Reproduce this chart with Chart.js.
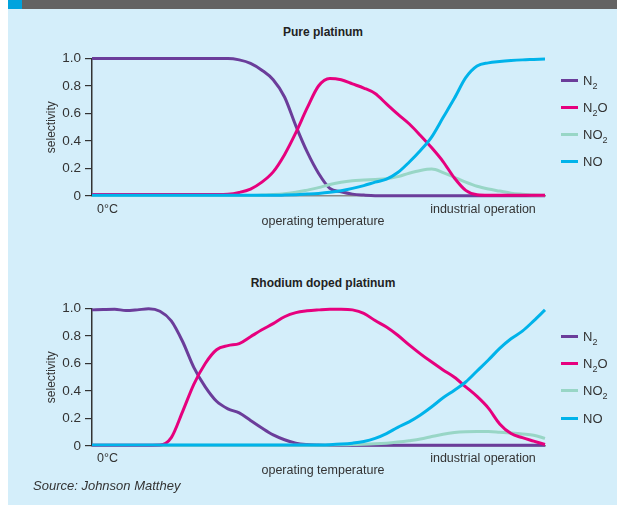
<!DOCTYPE html>
<html><head><meta charset="utf-8">
<script src="https://cdn.jsdelivr.net/npm/chart.js@4.4.1/dist/chart.umd.min.js"></script>
<style>
html,body{margin:0;padding:0;background:#fff;}
#wrap{position:relative;width:617px;height:505px;overflow:hidden;background:#fff;font-family:'Liberation Sans',Arial,sans-serif;color:#333;}
#panel{position:absolute;left:8px;top:9px;width:609px;height:496px;background:#d4eefa;}
#banner{position:absolute;left:8px;top:0;width:609px;height:9px;background:#636363;}
#bsq{position:absolute;left:8px;top:0;width:14px;height:9px;background:#00a3de;}
.cv{position:absolute;left:0;}
.t{position:absolute;white-space:nowrap;line-height:1;font-size:12.5px;}
.c{transform:translateX(-50%);}
.ttl{font-weight:bold;font-size:12px;color:#222;}
.lg{position:absolute;left:561px;width:17px;height:3px;}
.ll{position:absolute;left:583px;font-size:13px;line-height:1;white-space:nowrap;}
.ll sub{font-size:9px;vertical-align:-4px;line-height:0;}
.src{font-style:italic;font-size:13px;}
</style></head>
<body>
<div id="wrap">
  <div id="panel"></div>
  <div id="banner"></div><div id="bsq"></div>
  <div class="t c ttl" style="left:323px;top:26px;">Pure platinum</div>
  <canvas id="c1" class="cv" width="617" height="168" style="top:40px"></canvas>
  <div class="t" style="left:97px;top:203px;">0°C</div>
  <div class="t c" style="left:323px;top:215px;">operating temperature</div>
  <div class="t c" style="left:483px;top:203px;">industrial operation</div>
  <div class="lg" style="top:79px;background:#6b3d9a"></div><div class="ll" style="top:74px">N<sub>2</sub></div>
  <div class="lg" style="top:106px;background:#e6007e"></div><div class="ll" style="top:101px">N<sub>2</sub>O</div>
  <div class="lg" style="top:133px;background:#98d6c6"></div><div class="ll" style="top:128px">NO<sub>2</sub></div>
  <div class="lg" style="top:160px;background:#00b3ea"></div><div class="ll" style="top:155px">NO</div>

  <div class="t c ttl" style="left:323px;top:277px;">Rhodium doped platinum</div>
  <canvas id="c2" class="cv" width="617" height="168" style="top:290px"></canvas>
  <div class="t" style="left:97px;top:452px;">0°C</div>
  <div class="t c" style="left:323px;top:464px;">operating temperature</div>
  <div class="t c" style="left:483px;top:452px;">industrial operation</div>
  <div class="lg" style="top:335px;background:#6b3d9a"></div><div class="ll" style="top:330px">N<sub>2</sub></div>
  <div class="lg" style="top:362px;background:#e6007e"></div><div class="ll" style="top:357px">N<sub>2</sub>O</div>
  <div class="lg" style="top:389px;background:#98d6c6"></div><div class="ll" style="top:384px">NO<sub>2</sub></div>
  <div class="lg" style="top:417px;background:#00b3ea"></div><div class="ll" style="top:412px">NO</div>
  <div class="t src" style="left:33px;top:479px;">Source: Johnson Matthey</div>
</div>
<script>
// relative operating temperature (0 = 0°C, 100 = right end of the axis)
const temperature = [0,2.5,5,7.5,10,12.5,15,17.5,20,22.5,25,27.5,30,32.5,35,37.5,40,42.5,45,47.5,50,52.5,55,57.5,60,62.5,65,67.5,70,72.5,75,77.5,80,82.5,85,87.5,90,92.5,95,97.5,100];
const seriesNames = ['N2','N2O','NO2','NO'];
const yTicks = [0,0.2,0.4,0.6,0.8,1.0];

// Pure platinum
const ptN2  = [1,1,1,1,1,1,1,1,1,1,1,1,1,0.99,0.965,0.915,0.845,0.72,0.51,0.32,0.165,0.055,0.03,0.013,0.006,0.002,0.002,0.002,0.002,0.002,0.002,0.002,0.002,0.002,0.002,0.002,0.002,0.002,0.002,0.002,0.002];
const ptN2O = [0.01,0.01,0.01,0.01,0.01,0.01,0.01,0.01,0.01,0.01,0.01,0.01,0.012,0.025,0.05,0.10,0.175,0.30,0.46,0.64,0.80,0.855,0.845,0.815,0.785,0.745,0.67,0.595,0.525,0.44,0.35,0.25,0.13,0.04,0.008,0.005,0.005,0.005,0.005,0.005,0.005];
const ptNO2 = [0.003,0.003,0.003,0.003,0.003,0.003,0.003,0.003,0.003,0.003,0.003,0.003,0.003,0.003,0.003,0.006,0.01,0.016,0.026,0.042,0.06,0.083,0.10,0.11,0.115,0.12,0.125,0.14,0.165,0.185,0.195,0.17,0.135,0.10,0.07,0.05,0.035,0.02,0.012,0.006,0.004];
const ptNO  = [0.004,0.004,0.004,0.004,0.004,0.004,0.004,0.004,0.004,0.004,0.004,0.004,0.004,0.004,0.004,0.004,0.004,0.006,0.009,0.013,0.018,0.026,0.038,0.055,0.075,0.10,0.122,0.17,0.245,0.33,0.43,0.57,0.71,0.86,0.945,0.968,0.978,0.985,0.99,0.993,0.996];

// Rhodium doped platinum
const rhN2  = [0.99,0.993,0.995,0.985,0.99,0.998,0.98,0.91,0.76,0.57,0.43,0.325,0.27,0.24,0.185,0.13,0.08,0.045,0.02,0.01,0.006,0.004,0.004,0.004,0.004,0.004,0.004,0.004,0.004,0.004,0.004,0.004,0.004,0.004,0.004,0.004,0.004,0.004,0.004,0.004,0.004];
const rhN2O = [0.005,0.005,0.005,0.005,0.005,0.005,0.006,0.06,0.25,0.45,0.60,0.70,0.73,0.745,0.795,0.845,0.89,0.94,0.97,0.983,0.99,0.995,0.995,0.99,0.965,0.912,0.865,0.805,0.735,0.67,0.61,0.553,0.50,0.43,0.36,0.275,0.16,0.09,0.06,0.035,0.01];
const rhNO2 = [0.004,0.004,0.004,0.004,0.004,0.004,0.004,0.004,0.004,0.004,0.004,0.004,0.004,0.004,0.004,0.004,0.004,0.004,0.004,0.004,0.004,0.006,0.008,0.01,0.012,0.015,0.02,0.028,0.038,0.05,0.068,0.085,0.097,0.103,0.105,0.105,0.10,0.094,0.087,0.078,0.055];
const rhNO  = [0.006,0.006,0.006,0.006,0.006,0.006,0.006,0.006,0.006,0.006,0.006,0.006,0.006,0.006,0.006,0.006,0.006,0.006,0.006,0.006,0.007,0.009,0.013,0.02,0.032,0.055,0.09,0.135,0.175,0.225,0.285,0.35,0.405,0.465,0.545,0.625,0.71,0.78,0.835,0.91,0.99];

const colors = {N2:'#6b3d9a', N2O:'#e6007e', NO2:'#98d6c6', NO:'#00b3ea'};
const drawOrder = {N2:3, N2O:1, NO2:2, NO:0};
const FONT = "'Liberation Sans',Arial,sans-serif";

function makeChart(id, arrays){
  const datasets = seriesNames.map((n,i)=>({
    label:n,
    data: temperature.map((t,k)=>({x:t,y:arrays[i][k]})),
    borderColor: colors[n], backgroundColor: colors[n],
    borderWidth: 3, pointRadius: 0, fill:false,
    cubicInterpolationMode:'monotone', clip: 6, order: drawOrder[n]
  }));
  return new Chart(document.getElementById(id), {
    type:'line',
    data:{datasets},
    options:{
      responsive:false, animation:false, devicePixelRatio:1,
      layout:{padding:{left:44,right:72,top:18.5,bottom:4}},
      plugins:{legend:{display:false}, tooltip:{enabled:false}, title:{display:false}},
      scales:{
        x:{type:'linear', min:0, max:100,
           ticks:{display:false},
           grid:{display:true, drawOnChartArea:false, drawTicks:false},
           border:{display:true, color:'#8a8a8a', width:1.5},
           afterFit:(s)=>{s.height=2;}},
        y:{type:'linear', min:0, max:1,
           afterBuildTicks:(s)=>{s.ticks = yTicks.map(v=>({value:v}));},
           ticks:{color:'#333', padding:4, font:{family:FONT,size:13.5},
                  callback:(v)=> v===0 ? '0' : v.toFixed(1)},
           grid:{drawOnChartArea:false, drawTicks:true, tickLength:7, color:'#333', lineWidth:1.2},
           border:{display:true, color:'#333', width:1.5},
           title:{display:true, text:'selectivity', color:'#333', font:{family:FONT,size:12}, padding:{top:0,bottom:2}},
           afterFit:(s)=>{s.width=48;}}
      }
    }
  });
}
makeChart('c1',[ptN2,ptN2O,ptNO2,ptNO]);
makeChart('c2',[rhN2,rhN2O,rhNO2,rhNO]);
</script>
</body></html>
